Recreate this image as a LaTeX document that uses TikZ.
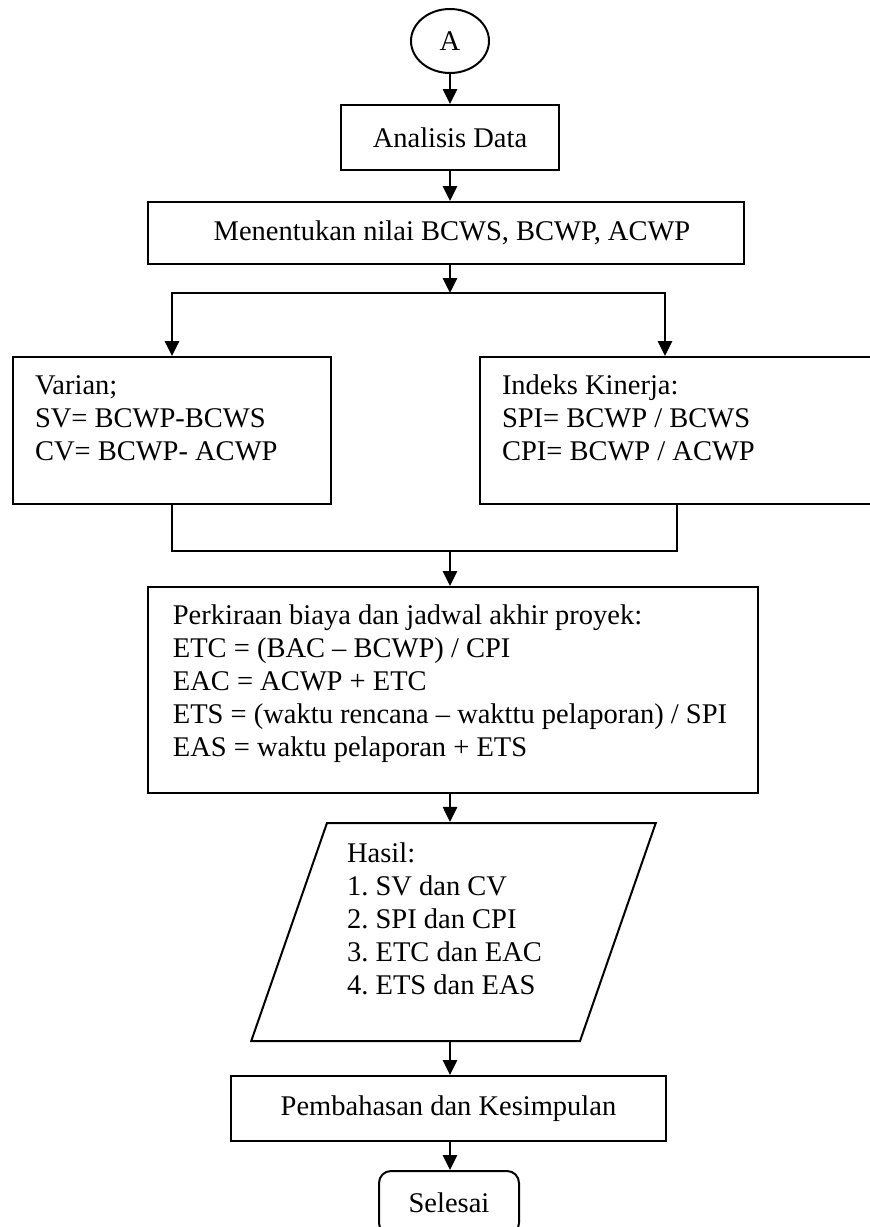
\documentclass[tikz,border=0pt]{standalone}
\usepackage{fontspec}
\setmainfont{Liberation Serif}
\usetikzlibrary{shapes.geometric,arrows.meta}
\newcommand{\isi}[3]{\raisebox{#1}[\height][\depth]{\begin{tabular}{#2}#3\end{tabular}}}
\frenchspacing
\begin{document}
\begin{tikzpicture}[x=0.5pt, y=-0.5pt, font=\fontsize{14.25}{16.5}\selectfont,
  kotak/.style={draw, line width=1pt, rectangle, inner sep=0pt},
  panah/.style={line width=1.3pt, -{Triangle[length=7.5pt,width=7pt]}},
  garis/.style={line width=0.8pt}]
\useasboundingbox (0,0) rectangle (870,1227);
\node[draw, ellipse, line width=1pt, minimum width=39pt, minimum height=32pt, inner sep=0pt] (mulai) at (450,41){A};
\node[kotak, minimum width=109pt, minimum height=32.5pt] (analisis) at (450,137.5){Analisis Data};
\draw[panah](mulai) -- (analisis);
\node[kotak, minimum width=298pt, minimum height=31pt] (nilai) at (446,233){\hspace*{6pt}Menentukan nilai BCWS, BCWP, ACWP};
\draw[panah](analisis) -- (analisis |- nilai.north);
\coordinate (cabang) at (450,293);
\draw[panah](nilai.south -| cabang) -- (cabang);
\node[kotak, minimum width=159pt, minimum height=73.5pt] (varian) at (172,430.5){\isi{5pt}{@{}p{137pt}@{}}{Varian;\\SV= BCWP-BCWS\\CV= BCWP- ACWP}};
\node[kotak, minimum width=200pt, minimum height=73.5pt] (indeks) at (680,430.5){\isi{5pt}{@{}p{178pt}@{}}{Indeks Kinerja:\\SPI= BCWP / BCWS\\CPI= BCWP / ACWP}};
\draw[panah](cabang) -| (varian.north);
\draw[panah](cabang) -| ([xshift=-7.5pt]indeks.north);
\coordinate (gabung) at (450,551);
\draw[garis](varian.south) |- (gabung) -| ([xshift=-1.5pt]indeks.south);
\node[kotak, minimum width=305pt, minimum height=103pt] (perkiraan) at (453,690){\isi{3pt}{@{}l@{\hspace{3pt}}}{Perkiraan biaya dan jadwal akhir proyek:\\ETC = (BAC -- BCWP) / CPI\\EAC = ACWP + ETC\\ETS = (waktu rencana -- wakttu pelaporan) / SPI\\EAS = waktu pelaporan + ETS}};
\draw[panah](gabung) -- (gabung |- perkiraan.north);
\node[draw, trapezium, trapezium left angle=68.9, trapezium right angle=111.1, trapezium stretches=true, line width=1pt, minimum width=202.5pt, minimum height=109pt, inner sep=0pt] (hasil) at (453.5,932){\isi{5pt}{@{}l@{\hspace{9pt}}}{Hasil:\\1. SV dan CV\\2. SPI dan CPI\\3. ETC dan EAC\\4. ETS dan EAS}};
\draw[panah](gabung |- perkiraan.south) -- (gabung |- hasil.north);
\node[kotak, minimum width=217.5pt, minimum height=32.5pt] (bahas) at (448.5,1108.5){Pembahasan dan Kesimpulan};
\draw[panah](gabung |- hasil.south) -- (gabung |- bahas.north);
\node[draw, rounded corners=6pt, line width=1pt, minimum width=70pt, minimum height=32pt, inner sep=0pt] (selesai) at (449,1203){Selesai};
\draw[panah](gabung |- bahas.south) -- (gabung |- selesai.north);
\end{tikzpicture}
\end{document}
